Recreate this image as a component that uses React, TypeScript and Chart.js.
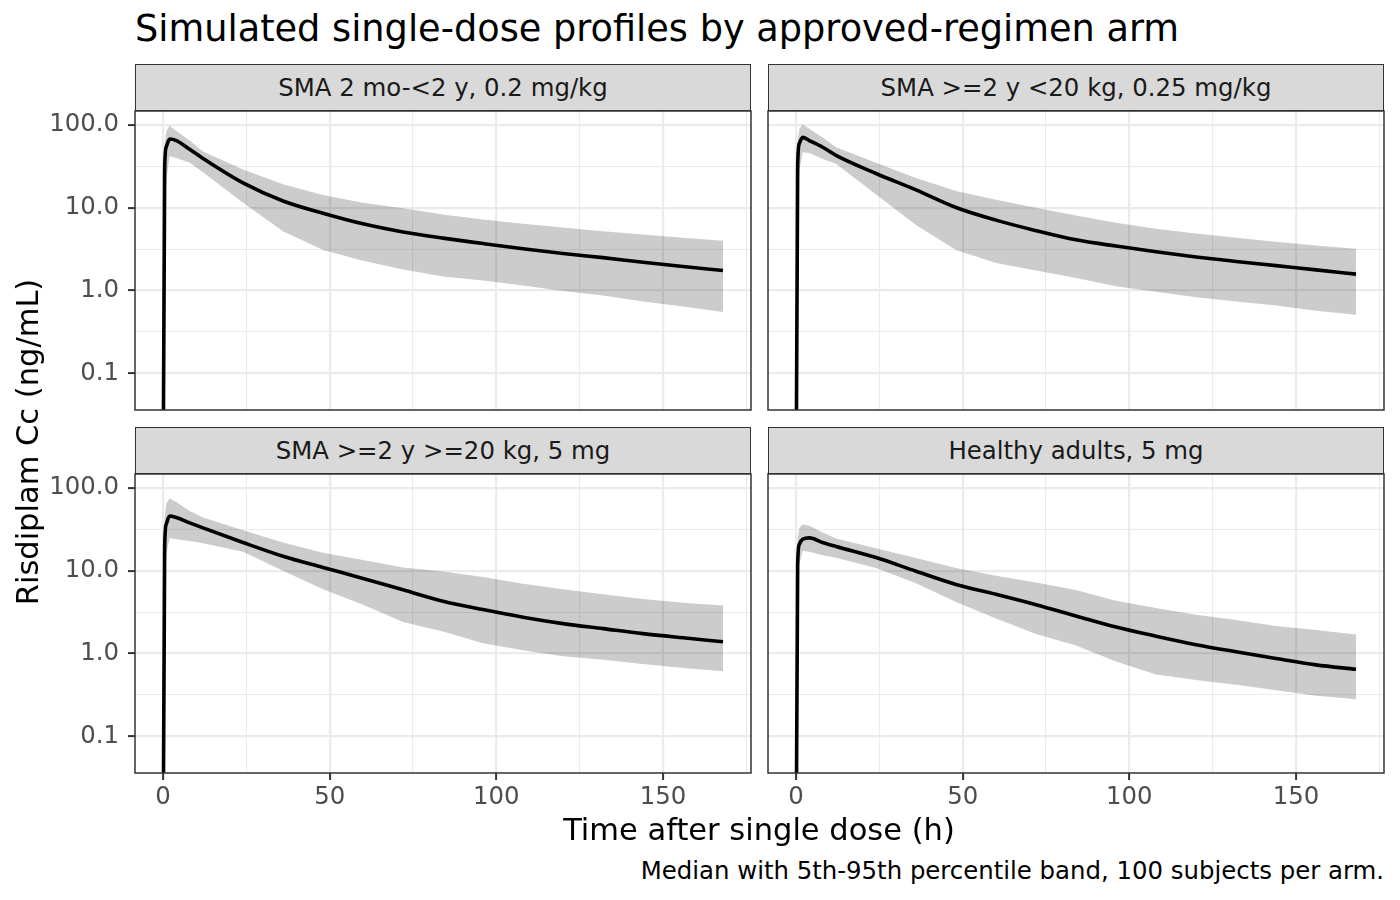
import { useEffect, useRef } from "react";
import Chart from "chart.js/auto";
import type { Plugin } from "chart.js";

const FONT = "'DejaVu Sans', 'Liberation Sans', sans-serif";

// sampling times (h)
const times = [0, 0.5, 1, 2, 4, 8, 12, 24, 36, 48, 60, 72, 84, 96, 108, 120, 132, 144, 156, 168];

const armTitles = [
    "SMA 2 mo-<2 y, 0.2 mg/kg",
    "SMA >=2 y <20 kg, 0.25 mg/kg",
    "SMA >=2 y >=20 kg, 5 mg",
    "Healthy adults, 5 mg",
];

// ng/mL
const infantMedian = [0.001, 30, 55, 68, 65, 51, 39.5, 20, 12.1, 8.6, 6.4, 5.1, 4.3, 3.7, 3.2, 2.8, 2.5, 2.2, 1.95, 1.75];
const infantP95 = [0.001, 60, 85, 98, 85, 65, 48, 29, 19.3, 14.3, 11.5, 9.9, 8.3, 7.2, 6.4, 5.8, 5.2, 4.75, 4.35, 4.0];
const infantP5 = [0.0005, 10, 22, 42, 40, 35, 27, 11.5, 5.2, 3.1, 2.3, 1.8, 1.48, 1.32, 1.15, 0.99, 0.87, 0.74, 0.64, 0.55];

const childMedian = [0.001, 32, 60, 71, 65, 54, 43, 26, 16.5, 10.1, 7.1, 5.3, 4.1, 3.45, 2.95, 2.55, 2.25, 2.0, 1.78, 1.58];
const childP95 = [0.001, 65, 90, 102, 90, 71, 54, 35, 23, 16, 12.5, 10, 8.1, 6.6, 5.6, 4.9, 4.35, 3.9, 3.5, 3.2];
const childP5 = [0.0005, 12, 28, 47, 46, 39, 34, 14.5, 6.2, 3.1, 2.15, 1.75, 1.42, 1.13, 0.97, 0.83, 0.74, 0.66, 0.57, 0.51];

const largeMedian = [0.001, 20, 37, 46, 44, 38, 33, 22, 15, 11, 8.1, 5.9, 4.3, 3.4, 2.75, 2.3, 2.0, 1.74, 1.55, 1.39];
const largeP95 = [0.001, 45, 65, 75, 68, 53, 44, 31, 22, 16.5, 13.5, 11, 9.8, 8.4, 7.0, 6.0, 5.2, 4.55, 4.1, 3.8];
const largeP5 = [0.0005, 8, 16, 25, 24, 23, 21.6, 17, 10, 6, 3.9, 2.4, 1.85, 1.33, 1.1, 0.93, 0.84, 0.75, 0.67, 0.61];

const adultMedian = [0.001, 12, 21, 24, 25, 22, 19.7, 14.5, 9.9, 6.85, 5.2, 3.9, 2.85, 2.09, 1.62, 1.28, 1.05, 0.87, 0.73, 0.645];
const adultP95 = [0.001, 25, 33, 36.6, 35, 29, 24.6, 18.8, 14.3, 10.8, 8.7, 7.2, 5.85, 4.35, 3.55, 2.95, 2.55, 2.15, 1.93, 1.7];
const adultP5 = [0.0005, 6, 12, 17.4, 17, 15.4, 14.4, 10.8, 7.1, 4.2, 2.65, 1.72, 1.25, 0.8, 0.56, 0.48, 0.42, 0.36, 0.31, 0.28];

const xGridTicks = [0, 25, 50, 75, 100, 125, 150, 175];
const xMajorTicks = [0, 50, 100, 150];
const yGridTicks = [0.1, 0.3162, 1, 3.162, 10, 31.62, 100];
const yMajorTicks = [0.1, 1, 10, 100];
const yMajorLabels = ["0.1", "1.0", "10.0", "100.0"];

const panelFrame: Plugin<"line"> = {
    id: "panelFrame",
    afterDraw(chart) {
        const { ctx, chartArea } = chart;
        ctx.save();
        ctx.strokeStyle = "#333333";
        ctx.lineWidth = 1.5;
        ctx.strokeRect(
            chartArea.left,
            chartArea.top,
            chartArea.right - chartArea.left,
            chartArea.bottom - chartArea.top
        );
        ctx.restore();
    },
};

type PanelProps = {
    title: string;
    median: number[];
    upper: number[];
    lower: number[];
    plotLeft: number;
    plotTop: number;
    showX: boolean;
    showY: boolean;
};

const PLOT_W = 616;
const PLOT_H = 299;
const Y_AXIS_W = 115;
const X_AXIS_H = 45;
const SMALL = 24.4;

function Panel({ title, median, upper, lower, plotLeft, plotTop, showX, showY }: PanelProps) {
    const canvasRef = useRef<HTMLCanvasElement | null>(null);

    const padLeft = showY ? 0 : 4;
    const axisW = showY ? Y_AXIS_W : 0;
    const axisH = showX ? X_AXIS_H : 0;
    const padBottom = showX ? 0 : 4;
    const width = padLeft + axisW + PLOT_W + 4;
    const height = 4 + PLOT_H + axisH + padBottom;

    useEffect(() => {
        const canvas = canvasRef.current;
        if (!canvas) {
            return;
        }
        const toPoints = (values: number[]) => times.map((t, i) => ({ x: t, y: values[i] }));

        const chart = new Chart(canvas, {
            type: "line",
            data: {
                datasets: [
                    {
                        label: "median",
                        data: toPoints(median),
                        borderColor: "#000000",
                        borderWidth: 3.6,
                        pointRadius: 0,
                        fill: false,
                        cubicInterpolationMode: "monotone",
                    },
                    {
                        label: "p5",
                        data: toPoints(lower),
                        borderColor: "rgba(0,0,0,0)",
                        borderWidth: 0,
                        pointRadius: 0,
                        fill: false,
                    },
                    {
                        label: "p95",
                        data: toPoints(upper),
                        borderColor: "rgba(0,0,0,0)",
                        borderWidth: 0,
                        pointRadius: 0,
                        backgroundColor: "rgba(0,0,0,0.2)",
                        fill: "-1",
                    },
                ],
            },
            options: {
                animation: false,
                responsive: false,
                events: [],
                layout: { padding: { left: padLeft, right: 4, top: 4, bottom: padBottom } },
                plugins: {
                    legend: { display: false },
                    tooltip: { enabled: false },
                },
                scales: {
                    x: {
                        type: "linear",
                        min: -8.4,
                        max: 176.4,
                        afterBuildTicks: (axis) => {
                            axis.ticks = xGridTicks.map((v) => ({ value: v }));
                        },
                        afterFit: (axis) => {
                            axis.height = axisH;
                            axis.paddingLeft = 0;
                            axis.paddingRight = 0;
                        },
                        border: { display: false },
                        grid: {
                            color: "#EBEBEB",
                            lineWidth: (ctx) => (xMajorTicks.includes(ctx.tick?.value) ? 2.2 : 1.1),
                            drawTicks: showX,
                            tickLength: 7,
                            tickWidth: 2,
                            tickColor: (ctx) =>
                                xMajorTicks.includes(ctx.tick?.value) ? "#333333" : "rgba(0,0,0,0)",
                        },
                        ticks: {
                            display: showX,
                            autoSkip: false,
                            maxRotation: 0,
                            padding: 3,
                            color: "#4D4D4D",
                            font: { family: FONT, size: SMALL },
                            callback: (value) =>
                                xMajorTicks.includes(Number(value)) ? String(value) : "",
                        },
                    },
                    y: {
                        type: "logarithmic",
                        min: 0.036,
                        max: 148,
                        afterBuildTicks: (axis) => {
                            axis.ticks = yGridTicks.map((v) => ({ value: v }));
                        },
                        afterFit: (axis) => {
                            axis.width = axisW;
                            axis.paddingTop = 0;
                            axis.paddingBottom = 0;
                        },
                        border: { display: false },
                        grid: {
                            color: "#EBEBEB",
                            lineWidth: (ctx) => (yMajorTicks.includes(ctx.tick?.value) ? 2.2 : 1.1),
                            drawTicks: showY,
                            tickLength: 7,
                            tickWidth: 2,
                            tickColor: (ctx) =>
                                yMajorTicks.includes(ctx.tick?.value) ? "#333333" : "rgba(0,0,0,0)",
                        },
                        ticks: {
                            display: showY,
                            autoSkip: false,
                            padding: 9,
                            color: "#4D4D4D",
                            font: { family: FONT, size: SMALL },
                            callback: (value) => {
                                const i = yMajorTicks.indexOf(Number(value));
                                return i >= 0 ? yMajorLabels[i] : "";
                            },
                        },
                    },
                },
            },
            plugins: [panelFrame],
        });

        return () => {
            chart.destroy();
        };
    }, [median, upper, lower, showX, showY, axisH, axisW, padLeft, padBottom]);

    return (
        <>
            <div
                style={{
                    position: "absolute",
                    left: plotLeft,
                    top: plotTop - 47,
                    width: PLOT_W,
                    height: 47,
                    boxSizing: "border-box",
                    background: "#D9D9D9",
                    border: "1.5px solid #333333",
                    display: "flex",
                    alignItems: "center",
                    justifyContent: "center",
                    fontFamily: FONT,
                    fontSize: SMALL,
                    color: "#1A1A1A",
                    whiteSpace: "pre",
                }}
            >
                {title}
            </div>
            <canvas
                ref={canvasRef}
                width={width}
                height={height}
                style={{
                    position: "absolute",
                    left: plotLeft - padLeft - axisW,
                    top: plotTop - 4,
                    width,
                    height,
                    display: "block",
                }}
            />
        </>
    );
}

export default function App() {
    return (
        <div
            style={{
                position: "absolute",
                left: 0,
                top: 0,
                width: 1400,
                height: 900,
                background: "#FFFFFF",
                fontFamily: FONT,
                overflow: "hidden",
            }}
        >
            <div
                style={{
                    position: "absolute",
                    left: 135,
                    top: 10,
                    fontSize: 36.7,
                    lineHeight: "37px",
                    color: "#000000",
                    whiteSpace: "pre",
                }}
            >
                Simulated single-dose profiles by approved-regimen arm
            </div>

            <Panel title={armTitles[0]} median={infantMedian} upper={infantP95} lower={infantP5}
                plotLeft={135} plotTop={111} showX={false} showY={true} />
            <Panel title={armTitles[1]} median={childMedian} upper={childP95} lower={childP5}
                plotLeft={768} plotTop={111} showX={false} showY={false} />
            <Panel title={armTitles[2]} median={largeMedian} upper={largeP95} lower={largeP5}
                plotLeft={135} plotTop={474} showX={true} showY={true} />
            <Panel title={armTitles[3]} median={adultMedian} upper={adultP95} lower={adultP5}
                plotLeft={768} plotTop={474} showX={true} showY={false} />

            <div
                style={{
                    position: "absolute",
                    left: 28 - 200,
                    top: 442 - 15,
                    width: 400,
                    height: 30,
                    fontSize: 30.5,
                    lineHeight: "30px",
                    textAlign: "center",
                    color: "#000000",
                    transform: "rotate(-90deg)",
                    whiteSpace: "pre",
                }}
            >
                Risdiplam Cc (ng/mL)
            </div>
            <div
                style={{
                    position: "absolute",
                    left: 759 - 300,
                    top: 815,
                    width: 600,
                    fontSize: 30.5,
                    lineHeight: "30px",
                    textAlign: "center",
                    color: "#000000",
                    whiteSpace: "pre",
                }}
            >
                Time after single dose (h)
            </div>
            <div
                style={{
                    position: "absolute",
                    right: 1400 - 1384,
                    top: 859,
                    fontSize: SMALL,
                    lineHeight: "24px",
                    color: "#000000",
                    whiteSpace: "pre",
                }}
            >
                Median with 5th-95th percentile band, 100 subjects per arm.
            </div>
        </div>
    );
}
